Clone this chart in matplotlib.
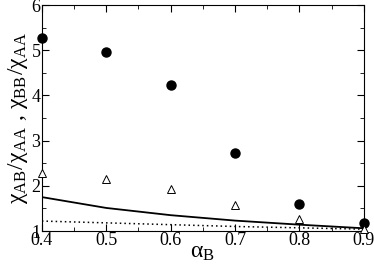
import numpy as np
import matplotlib
matplotlib.use("Agg")
import matplotlib.pyplot as plt
from matplotlib.ticker import MultipleLocator

plt.rcParams['font.family'] = ['Liberation Serif', 'DejaVu Serif']
plt.rcParams['mathtext.fontset'] = 'stix'

alpha_b = [0.4, 0.5, 0.6, 0.7, 0.8, 0.9]
chi_ab_sim = [5.27, 4.96, 4.23, 2.73, 1.60, 1.18]
chi_bb_sim = [2.29, 2.14, 1.92, 1.57, 1.26, 1.05]
chi_ab_theory = [1.75, 1.51, 1.35, 1.23, 1.14, 1.06]
chi_bb_theory = [1.22, 1.18, 1.14, 1.10, 1.07, 1.04]

fig = plt.figure(figsize=(3.74, 2.64), dpi=100)
ax = fig.add_axes([0.112, 0.125, 0.861, 0.856])

ax.plot(alpha_b, chi_ab_theory, color='black', lw=1.3)
ax.plot(alpha_b, chi_bb_theory, color='black', lw=1.1, ls=(0, (1, 2)))
ax.plot(alpha_b, chi_ab_sim, 'o', color='black', ms=6.5, clip_on=False, zorder=5)
ax.plot(alpha_b, chi_bb_sim, '^', mfc='white', mec='black', mew=0.7, ms=5.5, clip_on=False, zorder=5)

ax.set_xlim(0.4, 0.9)
ax.set_ylim(1, 6)
ax.xaxis.set_major_locator(MultipleLocator(0.1))
ax.xaxis.set_minor_locator(MultipleLocator(0.05))
ax.yaxis.set_major_locator(MultipleLocator(1))
ax.yaxis.set_minor_locator(MultipleLocator(0.5))
ax.tick_params(which='both', direction='in', top=True, right=True, labelsize=13, pad=1)
ax.tick_params(which='major', length=5)
ax.tick_params(which='minor', length=3)

ax.set_xlabel(r'α$_{\mathregular{B}}$', fontsize=17, labelpad=-5)
ax.set_ylabel(r'χ$_{\mathregular{AB}}$/χ$_{\mathregular{AA}}$ , χ$_{\mathregular{BB}}$/χ$_{\mathregular{AA}}$',
              fontsize=17, labelpad=1)

fig.savefig('out.png', dpi=100)
